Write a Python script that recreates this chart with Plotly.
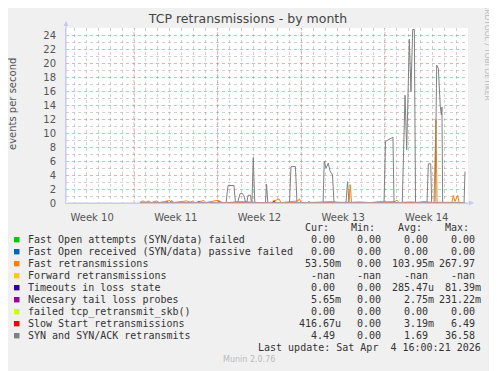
import plotly.graph_objects as go

# ---------------- data ----------------
title_text = "TCP retransmissions - by month"
y_title = "events per second"

# x values are days, measured from the "Week 11" grid line
week_mid = [-3.5, 3.5, 10.5, 17.5, 24.5]
week_labels = ["Week 10", "Week 11", "Week 12", "Week 13", "Week 14"]
week_starts = [0, 7, 14, 21]

syn_x = [0.50, 2.59, 2.76, 2.93, 3.18, 3.35, 5.27, 5.44, 5.61, 7.03, 7.11, 7.20,
         7.70, 7.87, 8.37, 8.49, 8.70, 8.87, 9.04, 9.21, 9.33, 9.46, 9.54, 9.75,
         9.83, 9.87, 9.98, 10.11, 11.00, 11.09, 11.20, 13.01, 13.14, 13.51, 13.64,
         14.56, 14.64, 14.72, 15.82, 15.92, 16.07, 16.26, 16.40, 16.61, 16.74,
         17.74, 17.87, 17.99, 20.92, 21.05, 21.25, 21.51, 21.67, 21.76, 22.45,
         22.68, 22.82, 23.04, 23.18, 23.32, 23.46, 23.56, 24.52, 24.63, 24.83,
         24.91, 25.19, 25.33, 25.47, 25.63, 25.72, 25.77, 25.83, 27.62, 27.70]
syn_y = [0, 0, 0.3, 0, 0.35, 0, 0, 0.3, 0, 0, 0.3, 0,
         0, 2.5, 2.5, 0, 0.2, 1.3, 1.4, 1.0, 0.1, 0.2, 1.1, 1.1,
         0, 0, 6.5, 0, 0, 2.7, 0, 0, 5.2, 5.2, 0,
         0, 0.25, 0, 0, 6.0, 5.0, 5.7, 4.6, 4.0, 0,
         0, 3.05, 0, 0, 8.8, 9.0, 9.2, 9.4, 0, 0,
         15.4, 7.6, 23.4, 15.9, 24.8, 24.8, 0, 0, 5.6, 5.6,
         0, 0, 19.7, 19.2, 13.8, 12.6, 13.7, 0, 0, 4.49]

fast_x = [0.50, 0.75, 1.00, 1.26, 1.42, 1.92, 2.09, 3.01, 3.18, 4.44, 4.69, 4.94,
          5.10, 5.61, 5.86, 6.03, 6.69, 7.03, 7.36, 7.70, 8.95, 9.71, 10.71, 11.55,
          12.13, 12.30, 13.72, 13.85, 13.97, 15.15, 16.49, 17.24, 17.99, 18.10,
          18.20, 18.91, 19.75, 20.59, 20.92, 21.84, 22.01, 22.18, 23.10, 23.77,
          24.27, 25.10, 25.21, 25.27, 25.36, 26.03, 26.61, 26.72, 26.86, 27.09,
          27.20, 27.70]
fast_y = [0.1, 0.3, 0.1, 0.3, 0.05, 0.3, 0.05, 0.35, 0.05, 0.3, 0.1, 0.3,
          0.05, 0.3, 0.35, 0.05, 0.3, 0.4, 0.1, 0.05, 0.2, 0.1, 0.05, 0.1,
          0.6, 0.05, 0.3, 0.6, 0.05, 0.1, 0.2, 0.1, 0.1, 2.6,
          0.1, 0.15, 0.05, 0.2, 0.15, 0.2, 0.4, 0.05, 0.15, 0.1,
          0.2, 0.05, 6.0, 11.95, 0.1, 0.1, 0.1, 1.1, 0.2, 1.1,
          0.1, 0.05]

slow_x = [0.50, 11.63, 11.72, 11.80, 27.70]
slow_y = [0, 0, 0.35, 0, 0]

zero_x = [0.50, 27.70]
zero_y = [0, 0]

series_names = ["Fast Open attempts (SYN/data) failed",
                "Fast Open received (SYN/data) passive failed",
                "Fast retransmissions",
                "Forward retransmissions",
                "Timeouts in loss state",
                "Necesary tail loss probes",
                "failed tcp_retransmit_skb()",
                "Slow Start retransmissions",
                "SYN and SYN/ACK retransmits"]
series_colors = ["#00CC00", "#0066B3", "#FF8000", "#FFCC00", "#330099",
                 "#990099", "#CCFF00", "#FF0000", "#808080"]
cur_vals = ["0.00", "0.00", "53.50m", "-nan", "0.00", "5.65m", "0.00", "416.67u", "4.49"]
min_vals = ["0.00", "0.00", "0.00", "-nan", "0.00", "0.00", "0.00", "0.00", "0.00"]
avg_vals = ["0.00", "0.00", "103.95m", "-nan", "285.47u", "2.75m", "0.00", "3.19m", "1.69"]
max_vals = ["0.00", "0.00", "267.97", "-nan", "81.39m", "231.22m", "0.00", "6.49", "36.58"]
col_heads = ["Cur:", "Min:", "Avg:", "Max:"]
last_update = "Last update: Sat Apr  4 16:00:21 2026"
footer = "Munin 2.0.76"
watermark = "RRDTOOL / TOBI OETIKER"

# ---------------- layout geometry ----------------
# The page body adds an 8 px offset, so the figure is laid out 8 px up/left.
OFF = 8
W, H = 497, 371
PLOT_L, PLOT_T, PLOT_R, PLOT_B = 66, 28, 468, 203      # as seen in the window
PW, PH = PLOT_R - PLOT_L, PLOT_B - PLOT_T
L, T = PLOT_L - OFF, PLOT_T - OFF
R, B = W - L - PW, H - T - PH
X0, X1 = -5.69, 27.95
Y0, Y1 = 0, 25


def px(xp):
    return (xp - PLOT_L) / PW


def py(yp):
    return (PLOT_B - yp) / PH


series_data = [(zero_x, zero_y), (zero_x, zero_y), (fast_x, fast_y), ([], []),
               (zero_x, zero_y), (zero_x, zero_y), (zero_x, zero_y),
               (slow_x, slow_y), (syn_x, syn_y)]

fig = go.Figure()
for name, color, (xs, ys) in zip(series_names, series_colors, series_data):
    fig.add_trace(go.Scatter(x=xs, y=ys, mode="lines", name=name,
                             line=dict(color=color, width=1),
                             hoverinfo="skip", showlegend=False))

axis_col = "#C8C8F0"
minor_grid = "rgba(150,150,150,0.45)"
major_grid = "rgba(215,100,100,0.5)"
tick_font = dict(family="DejaVu Sans", size=10, color="#555555")

fig.update_layout(
    width=W, height=H,
    margin=dict(l=L, r=R, t=T, b=B, pad=0),
    paper_bgcolor="#F0F0F0", plot_bgcolor="#FFFFFF",
    title=dict(text=title_text, x=(248 - OFF) / W, xref="container", xanchor="center",
               y=1 - (19 - OFF) / H, yref="container", yanchor="middle",
               font=dict(family="DejaVu Sans", size=12.5, color="#444444")),
    xaxis=dict(range=[X0, X1], tickmode="array", tickvals=week_mid,
               ticktext=week_labels, showgrid=False, ticks="",
               tickfont=tick_font, ticklabelstandoff=5,
               minor=dict(tickmode="linear", dtick=1, tick0=0, showgrid=True,
                          gridcolor=minor_grid, griddash="dot", gridwidth=1),
               zeroline=False, showline=True, linecolor=axis_col, linewidth=1),
    yaxis=dict(range=[Y0, Y1], tickmode="linear", tick0=0, dtick=2, showgrid=True,
               gridcolor=major_grid, griddash="dot", gridwidth=1,
               minor=dict(tickmode="linear", dtick=1, tick0=0, showgrid=True,
                          gridcolor=minor_grid, griddash="dot", gridwidth=1),
               zeroline=False, showline=True, linecolor=axis_col, linewidth=1,
               ticks="", tickfont=tick_font, ticklabelstandoff=7),
)

ann = []
shapes = []
# week boundary grid lines
for ws in week_starts:
    shapes.append(dict(type="line", xref="x", yref="y", x0=ws, x1=ws, y0=Y0, y1=Y1,
                       line=dict(color=major_grid, width=1, dash="dot"),
                       layer="below"))
# axis arrows
ann.append(dict(x=px(474), y=0, xref="paper", yref="paper", ax=-408, ay=0,
                text="", showarrow=True, arrowhead=2, arrowsize=1, arrowwidth=1,
                arrowcolor=axis_col))
ann.append(dict(x=0, y=py(21), xref="paper", yref="paper", ax=0, ay=182,
                text="", showarrow=True, arrowhead=2, arrowsize=1, arrowwidth=1,
                arrowcolor=axis_col))
# y-axis title
ann.append(dict(x=px(12), y=py(104), xref="paper", yref="paper", text=y_title,
                textangle=-90, showarrow=False, xanchor="center", yanchor="middle",
                font=dict(family="DejaVu Sans", size=10, color="#555555")))
# watermark
ann.append(dict(x=px(488), y=py(52), xref="paper", yref="paper", text=watermark,
                textangle=90, showarrow=False, xanchor="center", yanchor="middle",
                font=dict(family="DejaVu Sans", size=7.5, color="#BBBBBB")))

mono = dict(family="DejaVu Sans Mono", size=10, color="#333333")
col_edges = [342.5, 389.2, 436.2, 482.7]
row0 = 239.7
dy = 12.0
# column headers
for head, edge in zip(col_heads, col_edges):
    ann.append(dict(x=px(edge - 12), y=py(row0 - dy), xref="paper", yref="paper",
                    text=head, showarrow=False, xanchor="right", yanchor="middle",
                    font=mono))


def fmt(v):
    return v if v[-1] in "mu" else v + "\u00a0"


for i, (name, color) in enumerate(zip(series_names, series_colors)):
    yc = row0 + i * dy
    shapes.append(dict(type="rect", xref="paper", yref="paper",
                       x0=px(14), x1=px(19.5), y0=py(yc + 2.7), y1=py(yc - 2.7),
                       fillcolor=color, line=dict(width=0)))
    ann.append(dict(x=px(26.3), y=py(yc), xref="paper", yref="paper", text=name,
                    showarrow=False, xanchor="left", yanchor="middle", font=mono))
    for vals, edge in zip([cur_vals, min_vals, avg_vals, max_vals], col_edges):
        ann.append(dict(x=px(edge), y=py(yc), xref="paper", yref="paper",
                        text=fmt(vals[i]), showarrow=False, xanchor="right",
                        yanchor="middle", font=mono))

ann.append(dict(x=px(482.7), y=py(row0 + 9 * dy), xref="paper", yref="paper",
                text=last_update.replace("  ", "\u00a0\u00a0"), showarrow=False,
                xanchor="right", yanchor="middle", font=mono))
ann.append(dict(x=px(248.5), y=py(359.7), xref="paper", yref="paper", text=footer,
                showarrow=False, xanchor="center", yanchor="middle",
                font=dict(family="DejaVu Sans", size=8, color="#BBBBBB")))

fig.update_layout(annotations=ann, shapes=shapes)
fig.write_html("out.html")
